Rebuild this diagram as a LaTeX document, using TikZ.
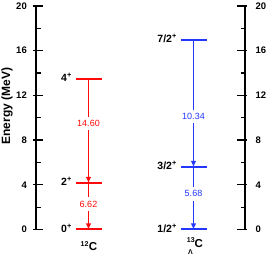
\documentclass[tikz,border=0pt]{standalone}
\usepackage{fontspec}
\setmainfont{Liberation Sans}
\usetikzlibrary{arrows.meta}
\definecolor{lvred}{RGB}{255,10,10}
\definecolor{lvblue}{RGB}{35,55,255}
\tikzset{
  axisline/.style={line width=1.3pt,black},
  majtick/.style={line width=1.2pt,black},
  mintick/.style={line width=1.2pt,black},
  ticklab/.style={font=\fontsize{9.5}{10}\selectfont\bfseries,inner sep=0pt},
  lvlred/.style={line width=1.9pt,draw=lvred},
  lvlblue/.style={line width=1.9pt,draw=lvblue},
  trred/.style={line width=1.35pt,lvred,-{Latex[length=6pt,width=5.5pt]}},
  trblue/.style={line width=1.35pt,lvblue,-{Latex[length=6pt,width=5.5pt]}},
  elab/.style={fill=white,inner xsep=1pt,inner ysep=3.5pt,font=\fontsize{9}{10}\selectfont},
  spinlab/.style={font=\fontsize{10.5}{11}\selectfont\bfseries,inner sep=0pt,anchor=east},
  nuclab/.style={font=\fontsize{11.5}{12}\selectfont\bfseries,inner sep=0pt}
}
\begin{document}
\begin{tikzpicture}[x=1pt,y=-1pt]
\useasboundingbox (0,0) rectangle (270,256);
% axes
\draw[axisline] (36,6) -- (36,229.5);
\draw[axisline] (245,6) -- (245,229.5);
\foreach \e in {0,4,...,20}{
  \pgfmathsetmacro{\ypos}{229.5-11.175*\e}
  \draw[majtick] (33,\ypos) -- (43,\ypos);
  \node[ticklab,anchor=east] at (27,\ypos) {\e};
  \draw[majtick] (237,\ypos) -- (247,\ypos);
  \node[ticklab,anchor=west] at (255.5,\ypos) {\e};
}
\foreach \e in {2,6,...,18}{
  \pgfmathsetmacro{\ypos}{229.5-11.175*\e}
  \draw[mintick] (36,\ypos) -- (40.5,\ypos);
  \draw[mintick] (241,\ypos) -- (245,\ypos);
}
\node[rotate=90,font=\fontsize{12}{12}\selectfont\bfseries,inner sep=0pt] (ylab) at (7,106) {Energy (MeV)};
% 12C levels
\coordinate (r4) at (88.5,79);
\coordinate (r2) at (88.5,183);
\coordinate (r0) at (88.5,229.5);
\draw[trred] (r4) -- (r2) node[elab,text=lvred,pos=0.43] (t1) {14.60};
\draw[trred] (r2) -- (r0) node[elab,text=lvred,pos=0.45] (t2) {6.62};
\node[spinlab] (s4) at (72,77) {4\textsuperscript{+}};
\node[spinlab] (s2) at (72,181) {2\textsuperscript{+}};
\node[spinlab] (s0) at (72,228.5) {0\textsuperscript{+}};
\node[nuclab] (c12) at (89,246) {\textsuperscript{\fontsize{7}{7}\selectfont 12}C};
% 13LC levels
\coordinate (b7) at (193.5,40);
\coordinate (b3) at (193.5,167);
\coordinate (b1) at (193.5,229.5);
\draw[trblue] (b7) -- (b3) node[elab,text=lvblue,pos=0.6] (t3) {10.34};
\draw[trblue] (b3) -- (b1) node[elab,text=lvblue,pos=0.43] (t4) {5.68};
\node[spinlab] (s7) at (177,38) {7/2\textsuperscript{+}};
\node[spinlab] (s3) at (177,165.5) {3/2\textsuperscript{+}};
\node[spinlab] (s1) at (177,228.5) {1/2\textsuperscript{+}};
\node[nuclab] (c13) at (195,246) {\rlap{\raisebox{0.5em}{\fontsize{7}{7}\selectfont 13}}\raisebox{-0.6em}{\fontsize{7}{7}\selectfont\,Λ}\,C};
% levels
\draw[lvlred] (76,79) -- (102,79);
\draw[lvlred] (76,183) -- (102,183);
\draw[lvlred] (76,229.3) -- (102,229.3);
\draw[lvlblue] (180.5,40) -- (207,40);
\draw[lvlblue] (180.5,167) -- (207,167);
\draw[lvlblue] (180.5,229.3) -- (207,229.3);
\end{tikzpicture}
\end{document}
